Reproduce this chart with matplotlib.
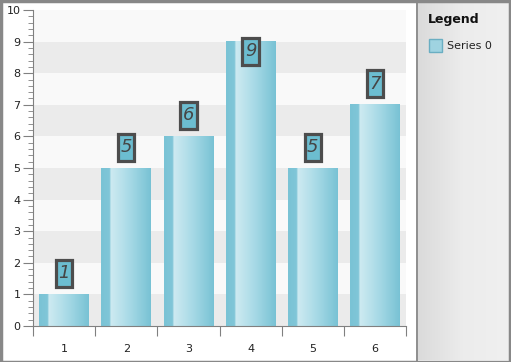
import numpy as np
import matplotlib
matplotlib.use("Agg")
from matplotlib import pyplot as plt
from matplotlib.colors import LinearSegmentedColormap
from matplotlib.patches import Rectangle
from matplotlib.ticker import MultipleLocator, FixedLocator
from matplotlib.transforms import ScaledTranslation

categories = [1, 2, 3, 4, 5, 6]
values = [1, 5, 6, 9, 5, 7]
series_name = "Series 0"
y_ticks = list(range(0, 11))

W, H = 511, 362
fig = plt.figure(figsize=(W / 100, H / 100), dpi=100)
fig.patch.set_facecolor("white")

# pannello legenda a destra, con gradiente
axLeg = fig.add_axes([417 / W, 2 / H, 92 / W, 358 / H])
grad = np.linspace(0, 1, 256).reshape(1, -1)
cmLeg = LinearSegmentedColormap.from_list("leg", ["#dadada", "#ececec", "#f0f0f0"])
axLeg.imshow(grad, aspect="auto", cmap=cmLeg, extent=[0, 1, 0, 1])
axLeg.set_xlim(0, 1)
axLeg.set_ylim(0, 1)
axLeg.axis("off")

ax = fig.add_axes([33 / W, 36 / H, 373 / W, 316 / H])
ax.set_xlim(0.5, 6.5)
ax.set_ylim(0, 10)
ax.set_facecolor("white")

# bande alternate
for i in range(10):
    ax.axhspan(i, i + 1, color="#ebebeb" if i % 2 == 0 else "#f9f9f9", lw=0, zorder=0)

cmBar = LinearSegmentedColormap.from_list(
    "bar", [(0, "#7ac3d5"), (0.17, "#80c6d8"), (0.2, "#cdeaf1"), (0.55, "#aadbe7"), (1, "#78c2d4")])
bw = 0.8
ymax = 10
for c, v in zip(categories, values):
    ax.imshow(grad, aspect="auto", cmap=cmBar, extent=[c - bw / 2, c + bw / 2, 0, v], zorder=2)
    # etichetta: box in pollici rispetto alla cima della barra
    tr = fig.dpi_scale_trans + ScaledTranslation(c, v, ax.transData)
    hBox = 0.27
    y0 = 0.075
    topPx = ax.transData.transform((c, v))[1] / 100 + y0 + hBox
    if topPx > ax.transData.transform((c, ymax))[1] / 100:
        y0 = -0.23
    ax.add_patch(Rectangle((-0.082, y0), 0.164, hBox, transform=tr, facecolor="#6cbdd0",
                           edgecolor="#4d4d4d", lw=2.3, zorder=4, clip_on=False))
    ax.text(0, y0 + hBox / 2, str(v), transform=tr, ha="center", va="center", fontsize=13,
            fontstyle="italic", color="#454545", zorder=5)
ax.set_xlim(0.5, 6.5)
ax.set_ylim(0, 10)

for s in ["top", "right"]:
    ax.spines[s].set_visible(False)
for s in ["left", "bottom"]:
    ax.spines[s].set_color("#808080")

ax.yaxis.set_major_locator(FixedLocator(y_ticks))
ax.yaxis.set_minor_locator(MultipleLocator(0.2))
ax.tick_params(axis="y", which="major", length=7, color="#808080", labelsize=8, pad=2, labelcolor="#222")
ax.tick_params(axis="y", which="minor", length=3.6, color="#808080")

ax.xaxis.set_major_locator(FixedLocator(np.arange(0.5, 7, 1)))
ax.xaxis.set_major_formatter(plt.NullFormatter())
ax.xaxis.set_minor_locator(FixedLocator(categories))
ax.set_xticklabels([str(c) for c in categories], minor=True)
ax.tick_params(axis="x", which="major", length=7, color="#808080")
ax.tick_params(axis="x", which="minor", length=0, labelsize=8, pad=13, labelcolor="#222")

# legenda
fig.text(428 / W, 1 - 20 / H, "Legend", fontsize=9, fontweight="bold", va="center", color="#111")
fig.patches.append(Rectangle((429 / W, 1 - 52 / H), 13 / W, 13 / H, transform=fig.transFigure,
                             facecolor="#9fd3e1", edgecolor="#6aaec2", lw=1))
fig.text(447 / W, 1 - 46 / H, series_name, fontsize=8, va="center", color="#222")

# bordi
fig.patches.append(Rectangle((416 / W, 0), 1.5 / W, 1, transform=fig.transFigure,
                             facecolor="#909090", edgecolor="none"))
fig.patches.append(Rectangle((0.5 / W, 0.5 / H), 1 - 1.5 / W, 1 - 1.5 / H, transform=fig.transFigure,
                             facecolor="none", edgecolor="#888888", lw=2.5))

fig.savefig("out.png", dpi=100)
